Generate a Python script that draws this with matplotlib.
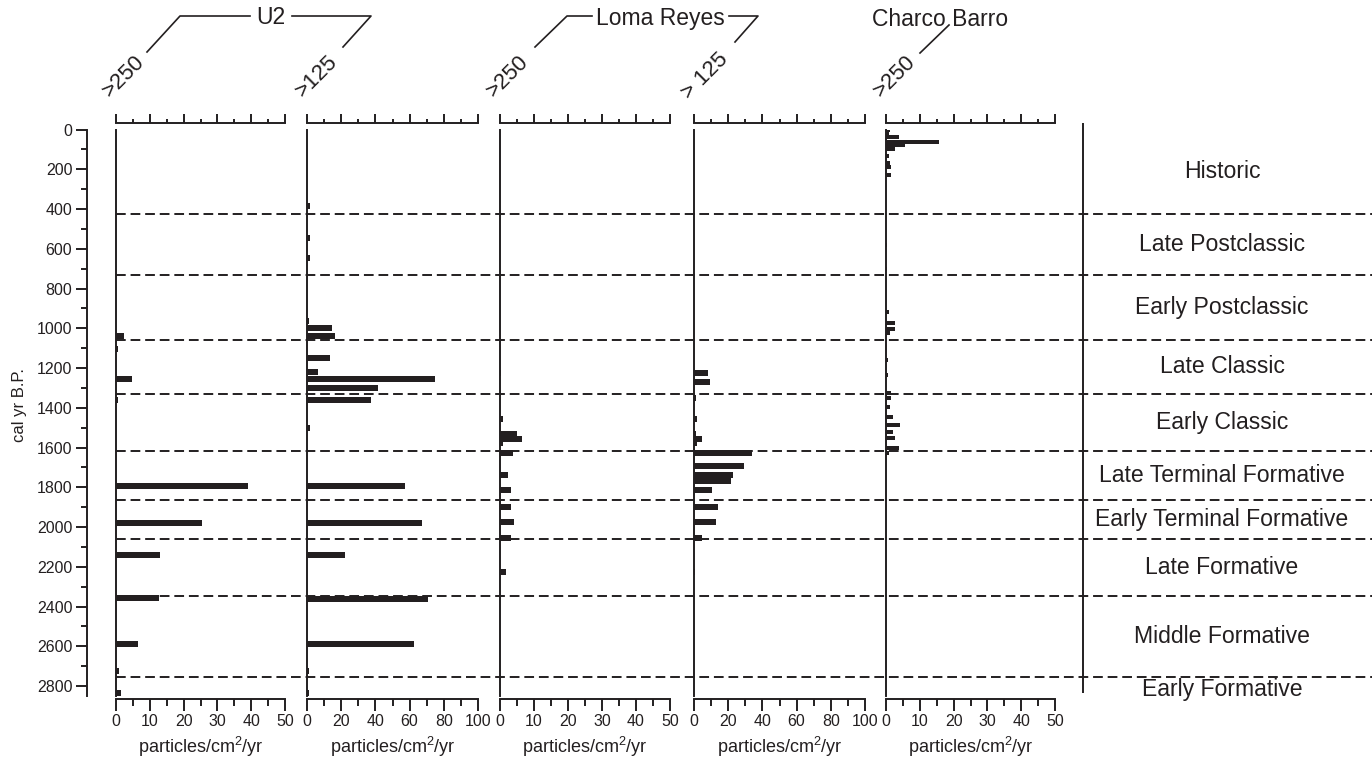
import matplotlib
matplotlib.use('Agg')
import matplotlib.pyplot as plt
from matplotlib.ticker import MultipleLocator

plt.rcParams['font.family'] = ['Liberation Sans', 'DejaVu Sans']
plt.rcParams['mathtext.fontset'] = 'custom'
plt.rcParams['mathtext.rm'] = 'Liberation Sans'
INK = '#231f20'

# ---------- data: cal yr B.P. vs particles/cm2/yr ----------
u2_250_years = [1040, 1104, 1255, 1360, 1793, 1979, 2140, 2357, 2588, 2724, 2835]
u2_250_vals = [2.4, 0.5, 4.6, 0.5, 39, 25.5, 13, 12.6, 6.4, 1.0, 1.4]

u2_125_years = [385, 546, 646, 963, 998, 1039, 1150, 1220, 1255, 1300, 1360,
                1501, 1793, 1979, 2140, 2362, 2588, 2724, 2835]
u2_125_vals = [2, 2, 2, 1, 14.5, 16.5, 13.5, 6.5, 75, 41.5, 37.5,
               2, 57.5, 67, 22.5, 71, 62.5, 1, 1]

loma_250_years = [1225, 1456, 1532, 1557, 1577, 1628, 1738, 1813, 1899, 1974, 2055, 2226]
loma_250_vals = [0.3, 1, 5.1, 6.5, 1, 3.7, 2.5, 3.3, 3.3, 4.2, 3.3, 1.9]

loma_125_years = [1225, 1270, 1350, 1456, 1532, 1557, 1577, 1628, 1693, 1738,
                  1768, 1813, 1899, 1974, 2055, 2226]
loma_125_vals = [8, 9.5, 1.3, 2, 1.3, 4.8, 2, 33.7, 29, 23,
                 21.5, 10.6, 14, 12.8, 4.8, 0.8]

charco_years = [5, 20, 38, 63, 78, 98, 133, 169, 189, 229, 580, 700, 918, 973,
                1003, 1024, 1160, 1235, 1325, 1350, 1396, 1446, 1486, 1522,
                1552, 1602, 1628]
charco_vals = [1.3, 1.0, 3.9, 15.7, 5.7, 2.8, 1.0, 1.3, 1.5, 1.5, 0.3, 0.3, 1.0, 2.8,
               2.8, 1.3, 0.5, 0.5, 1.5, 1.5, 1.3, 2.2, 4.2, 2.2,
               2.8, 3.7, 1.0]

period_names = ['Historic', 'Late Postclassic', 'Early Postclassic', 'Late Classic',
                'Early Classic', 'Late Terminal Formative', 'Early Terminal Formative',
                'Late Formative', 'Middle Formative', 'Early Formative']
period_bounds = [427, 734, 1059, 1329, 1616, 1862, 2060, 2345, 2752]

# ---------- layout ----------
W, H = 1372, 761
YMAX = 2850
fig = plt.figure(figsize=(W / 100, H / 100), dpi=100)


def rect(x0, x1, y0=129.5, y1=696):
    return [x0 / W, 1 - y1 / H, (x1 - x0) / W, (y1 - y0) / H]


panels = [
    (u2_250_years, u2_250_vals, 50, 116, 285, 28),
    (u2_125_years, u2_125_vals, 100, 307, 478, 28),
    (loma_250_years, loma_250_vals, 50, 500, 670, 28),
    (loma_125_years, loma_125_vals, 100, 694, 865, 28),
    (charco_years, charco_vals, 50, 886, 1055, 20),
]

for yrs, vals, xmax, x0, x1, bh in panels:
    ax = fig.add_axes(rect(x0, x1))
    ax.barh(yrs, vals, height=bh, color=INK, zorder=2)
    ax.set_xlim(0, xmax)
    ax.set_ylim(YMAX, 0)
    ax.patch.set_visible(False)
    ax.spines['right'].set_visible(False)
    for s in ax.spines.values():
        s.set_linewidth(1.4)
        s.set_color(INK)
    ax.spines['left'].set_zorder(3)
    ax.spines['top'].set_position(('outward', 4.7))
    ax.spines['bottom'].set_position(('outward', 1.8))
    ax.set_yticks([])
    step = xmax / 5
    ax.xaxis.set_major_locator(MultipleLocator(step))
    ax.xaxis.set_minor_locator(MultipleLocator(step / 2))
    ax.tick_params(axis='x', which='both', top=True, bottom=True,
                   labeltop=False, labelbottom=True, direction='out',
                   color=INK, width=1.4, labelcolor=INK)
    ax.tick_params(axis='x', which='major', length=8.4, labelsize=11.5, pad=3)
    ax.tick_params(axis='x', which='minor', length=5.3)
    for t in ax.xaxis.get_major_ticks():
        t.tick2line.set_markersize(6.5)
    for t in ax.xaxis.get_minor_ticks():
        t.tick2line.set_markersize(3.2)
    ax.set_xlabel('particles/cm$^2$/yr', fontsize=13, labelpad=4, color=INK)

# left age axis
ax_y = fig.add_axes(rect(87, 88))
ax_y.set_ylim(YMAX, 0)
ax_y.patch.set_visible(False)
for name in ['top', 'right', 'bottom']:
    ax_y.spines[name].set_visible(False)
ax_y.spines['left'].set_linewidth(1.4)
ax_y.spines['left'].set_color(INK)
ax_y.set_xticks([])
ax_y.yaxis.set_major_locator(MultipleLocator(200))
ax_y.yaxis.set_minor_locator(MultipleLocator(100))
ax_y.set_yticks(range(0, 2801, 200))
ax_y.tick_params(axis='y', which='both', direction='out', color=INK, width=1.4,
                 labelcolor=INK)
ax_y.tick_params(axis='y', which='major', length=7.6, labelsize=11.5, pad=3)
ax_y.tick_params(axis='y', which='minor', length=4)
fig.text(20 / W, 1 - 405 / H, 'cal yr B.P.', rotation=90, ha='center', va='center',
         fontsize=12, color=INK)

# period boundaries and names
ax_ov = fig.add_axes(rect(0, W))
ax_ov.set_xlim(0, W)
ax_ov.set_ylim(YMAX, 0)
ax_ov.axis('off')
ax_ov.patch.set_visible(False)
ax_ov.hlines(period_bounds, 116, W, colors=INK, linewidth=1.4,
             linestyles=(0, (5, 2.5)), zorder=5)
ax_ov.vlines(1083, -33, 2836, colors=INK, linewidth=1.4, clip_on=False)
edges = [0] + period_bounds + [2885]
for i, name in enumerate(period_names):
    ax_ov.text(1222, (edges[i] + edges[i + 1]) / 2, name, ha='center', va='center',
               fontsize=16.6, color=INK, clip_on=False)

# site headers and size fractions
ax_h = fig.add_axes([0, 0, 1, 1])
ax_h.set_xlim(0, W)
ax_h.set_ylim(H, 0)
ax_h.axis('off')
ax_h.patch.set_visible(False)

lw_h = 1.2
ax_h.plot([147, 180, 250], [52, 16, 16], color=INK, lw=lw_h)
ax_h.text(271, 17, 'U2', ha='center', va='center', fontsize=16.5, color=INK)
ax_h.plot([292, 371, 343], [16, 16, 47], color=INK, lw=lw_h)
ax_h.plot([535, 567, 592], [47, 16, 16], color=INK, lw=lw_h)
ax_h.text(660, 19, 'Loma Reyes', ha='center', va='center', fontsize=16.5, color=INK)
ax_h.plot([729, 758, 735], [16, 16, 42], color=INK, lw=lw_h)
ax_h.text(940, 19, 'Charco Barro', ha='center', va='center', fontsize=16.5, color=INK)
ax_h.plot([920, 949], [53, 25], color=INK, lw=lw_h)

for x, label in [(124, '>250'), (317, '>125'), (508, '>250'), (705, '> 125'), (895, '>250')]:
    ax_h.text(x, 76, label, rotation=45, ha='center', va='center', fontsize=16,
              color=INK)

fig.savefig('out.png', dpi=100)
